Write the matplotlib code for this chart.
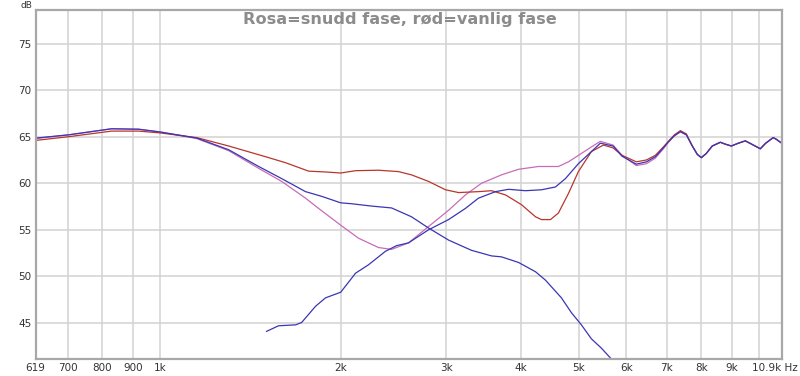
import matplotlib
matplotlib.use('Agg')
import matplotlib.pyplot as plt
from matplotlib.ticker import FixedLocator, NullLocator

# --- data (Hz, dB) ---

# red: normal polarity sum
red_f = [619, 703, 829, 920, 1000, 1150, 1300, 1498, 1619, 1768, 1900, 2000, 2118, 2313,
         2498, 2626, 2803, 2993, 3146, 3397, 3572, 3769, 4008, 4230, 4328, 4480, 4619,
         4801, 4988, 5244, 5491, 5700, 5900, 6233, 6480, 6706, 6916, 7051, 7216, 7384,
         7554, 7730, 7880, 8004, 8157, 8347, 8608, 8775, 8981, 9226, 9477, 9710, 10040,
         10250, 10550, 10690, 10900]
red_db = [64.6, 65.0, 65.6, 65.6, 65.4, 64.9, 64.0, 62.85, 62.2, 61.3, 61.2, 61.1, 61.35, 61.4,
          61.25, 60.9, 60.2, 59.3, 59.0, 59.1, 59.2, 58.75, 57.7, 56.4, 56.1, 56.1, 56.8,
          58.9, 61.25, 63.4, 64.1, 63.8, 63.0, 62.3, 62.5, 63.0, 63.9, 64.5, 65.2, 65.65,
          65.3, 64.0, 63.1, 62.75, 63.2, 64.0, 64.4, 64.2, 64.0, 64.3, 64.55, 64.2, 63.7,
          64.3, 64.9, 64.7, 64.3]

# pink: reversed polarity sum
pink_f = [619, 703, 829, 920, 1000, 1150, 1300, 1459, 1594, 1747, 1837, 2000, 2142, 2313,
          2432, 2596, 2803, 3028, 3231, 3437, 3711, 3962, 4279, 4619, 4801, 5046, 5244,
          5428, 5700, 5900, 6233, 6480, 6706, 6916, 7051, 7216, 7384, 7554, 7730, 7880,
          8004, 8157, 8347, 8608, 8775, 8981, 9226, 9477, 9710, 10040, 10250, 10550,
          10690, 10900]
pink_db = [64.8, 65.2, 65.85, 65.8, 65.5, 64.8, 63.5, 61.6, 60.2, 58.4, 57.3, 55.5, 54.1, 53.1,
           52.9, 53.6, 55.35, 57.1, 58.75, 60.0, 60.9, 61.5, 61.8, 61.8, 62.3, 63.2, 63.9,
           64.5, 64.1, 63.0, 61.9, 62.1, 62.7, 63.7, 64.4, 65.1, 65.5, 65.2, 64.0, 63.1,
           62.75, 63.2, 64.0, 64.4, 64.2, 64.0, 64.3, 64.55, 64.2, 63.7, 64.3, 64.9,
           64.7, 64.3]

# blue: woofer (low pass)
woof_f = [619, 703, 829, 920, 1000, 1150, 1300, 1459, 1594, 1747, 1858, 2000, 2086, 2252,
          2432, 2626, 2803, 3028, 3307, 3572, 3711, 3962, 4230, 4395, 4673, 4857, 5046,
          5244, 5449, 5641]
woof_db = [64.85, 65.2, 65.85, 65.8, 65.5, 64.85, 63.6, 61.8, 60.5, 59.1, 58.6, 57.9, 57.8, 57.55,
           57.35, 56.4, 55.2, 53.9, 52.8, 52.2, 52.1, 51.5, 50.5, 49.6, 47.7, 46.1, 44.8,
           43.3, 42.3, 41.25]

# blue: tweeter (high pass)
tw_f = [1504, 1575, 1682, 1721, 1816, 1887, 2000, 2118, 2226, 2376, 2479, 2596, 2803, 3028,
        3231, 3397, 3627, 3813, 4070, 4328, 4567, 4746, 4988, 5244, 5428, 5700, 5900, 6233,
        6480, 6706, 6916, 7051, 7216, 7384, 7554, 7730, 7880, 8004, 8157, 8347, 8608, 8775,
        8981, 9226, 9477, 9710, 10040, 10250, 10550, 10690, 10900]
tw_db = [44.1, 44.7, 44.8, 45.05, 46.8, 47.7, 48.3, 50.35, 51.25, 52.7, 53.3, 53.6, 55.0, 56.1,
         57.3, 58.4, 59.1, 59.35, 59.2, 59.3, 59.6, 60.5, 62.1, 63.4, 64.3, 64.0, 62.9, 62.05,
         62.3, 62.85, 63.8, 64.45, 65.1, 65.55, 65.2, 64.0, 63.1, 62.75, 63.2, 64.0, 64.4, 64.2,
         64.0, 64.3, 64.55, 64.2, 63.7, 64.3, 64.9, 64.7, 64.3]

x_ticks = [619, 700, 800, 900, 1000, 2000, 3000, 4000, 5000, 6000, 7000, 8000, 9000]
x_labels = ['619', '700', '800', '900', '1k', '2k', '3k', '4k', '5k', '6k', '7k', '8k', '9k']
y_ticks = [45, 50, 55, 60, 65, 70, 75]

fig = plt.figure(figsize=(8, 3.76), dpi=100)
ax = fig.add_axes([0.0446, 0.0444, 0.9325, 0.929])

ax.plot(pink_f, pink_db, color='#c86cb8', lw=0.9)
ax.plot(red_f, red_db, color='#b8362c', lw=0.9)
ax.plot(woof_f, woof_db, color='#3a36b4', lw=0.9)
ax.plot(tw_f, tw_db, color='#3a36b4', lw=0.9)

ax.set_xscale('log')
ax.set_xlim(619, 10900)
ax.set_ylim(41.1, 78.6)

ax.xaxis.set_major_locator(FixedLocator(x_ticks))
ax.set_xticklabels(x_labels)
ax.xaxis.set_minor_locator(NullLocator())
ax.set_yticks(y_ticks)

# grid lines (10k gets a line but no label)
for f in x_ticks[1:] + [10000]:
    ax.axvline(f, color='#d2d2d2', lw=1.1, zorder=0)
for v in y_ticks:
    ax.axhline(v, color='#d2d2d2', lw=1.1, zorder=0)

ax.tick_params(length=0, labelsize=7.5, colors='#333333', pad=3)
for s in ax.spines.values():
    s.set_color('#a8a8a8')
    s.set_linewidth(1.6)

# right-hand end label of the frequency axis
fig.text(798 / 800, 1 - 368 / 376, '10.9k Hz', ha='right', va='center',
         fontsize=7.5, color='#333333')

ax.text(0.488, 0.972, 'Rosa=snudd fase, rød=vanlig fase', transform=ax.transAxes,
        ha='center', va='center', fontsize=11.6, fontweight='bold', color='#8c8c8c')
fig.text(26 / 800, 1 - 5 / 376, 'dB', ha='center', va='center', fontsize=6.5, color='#333333')

fig.savefig('out.png', dpi=100)
